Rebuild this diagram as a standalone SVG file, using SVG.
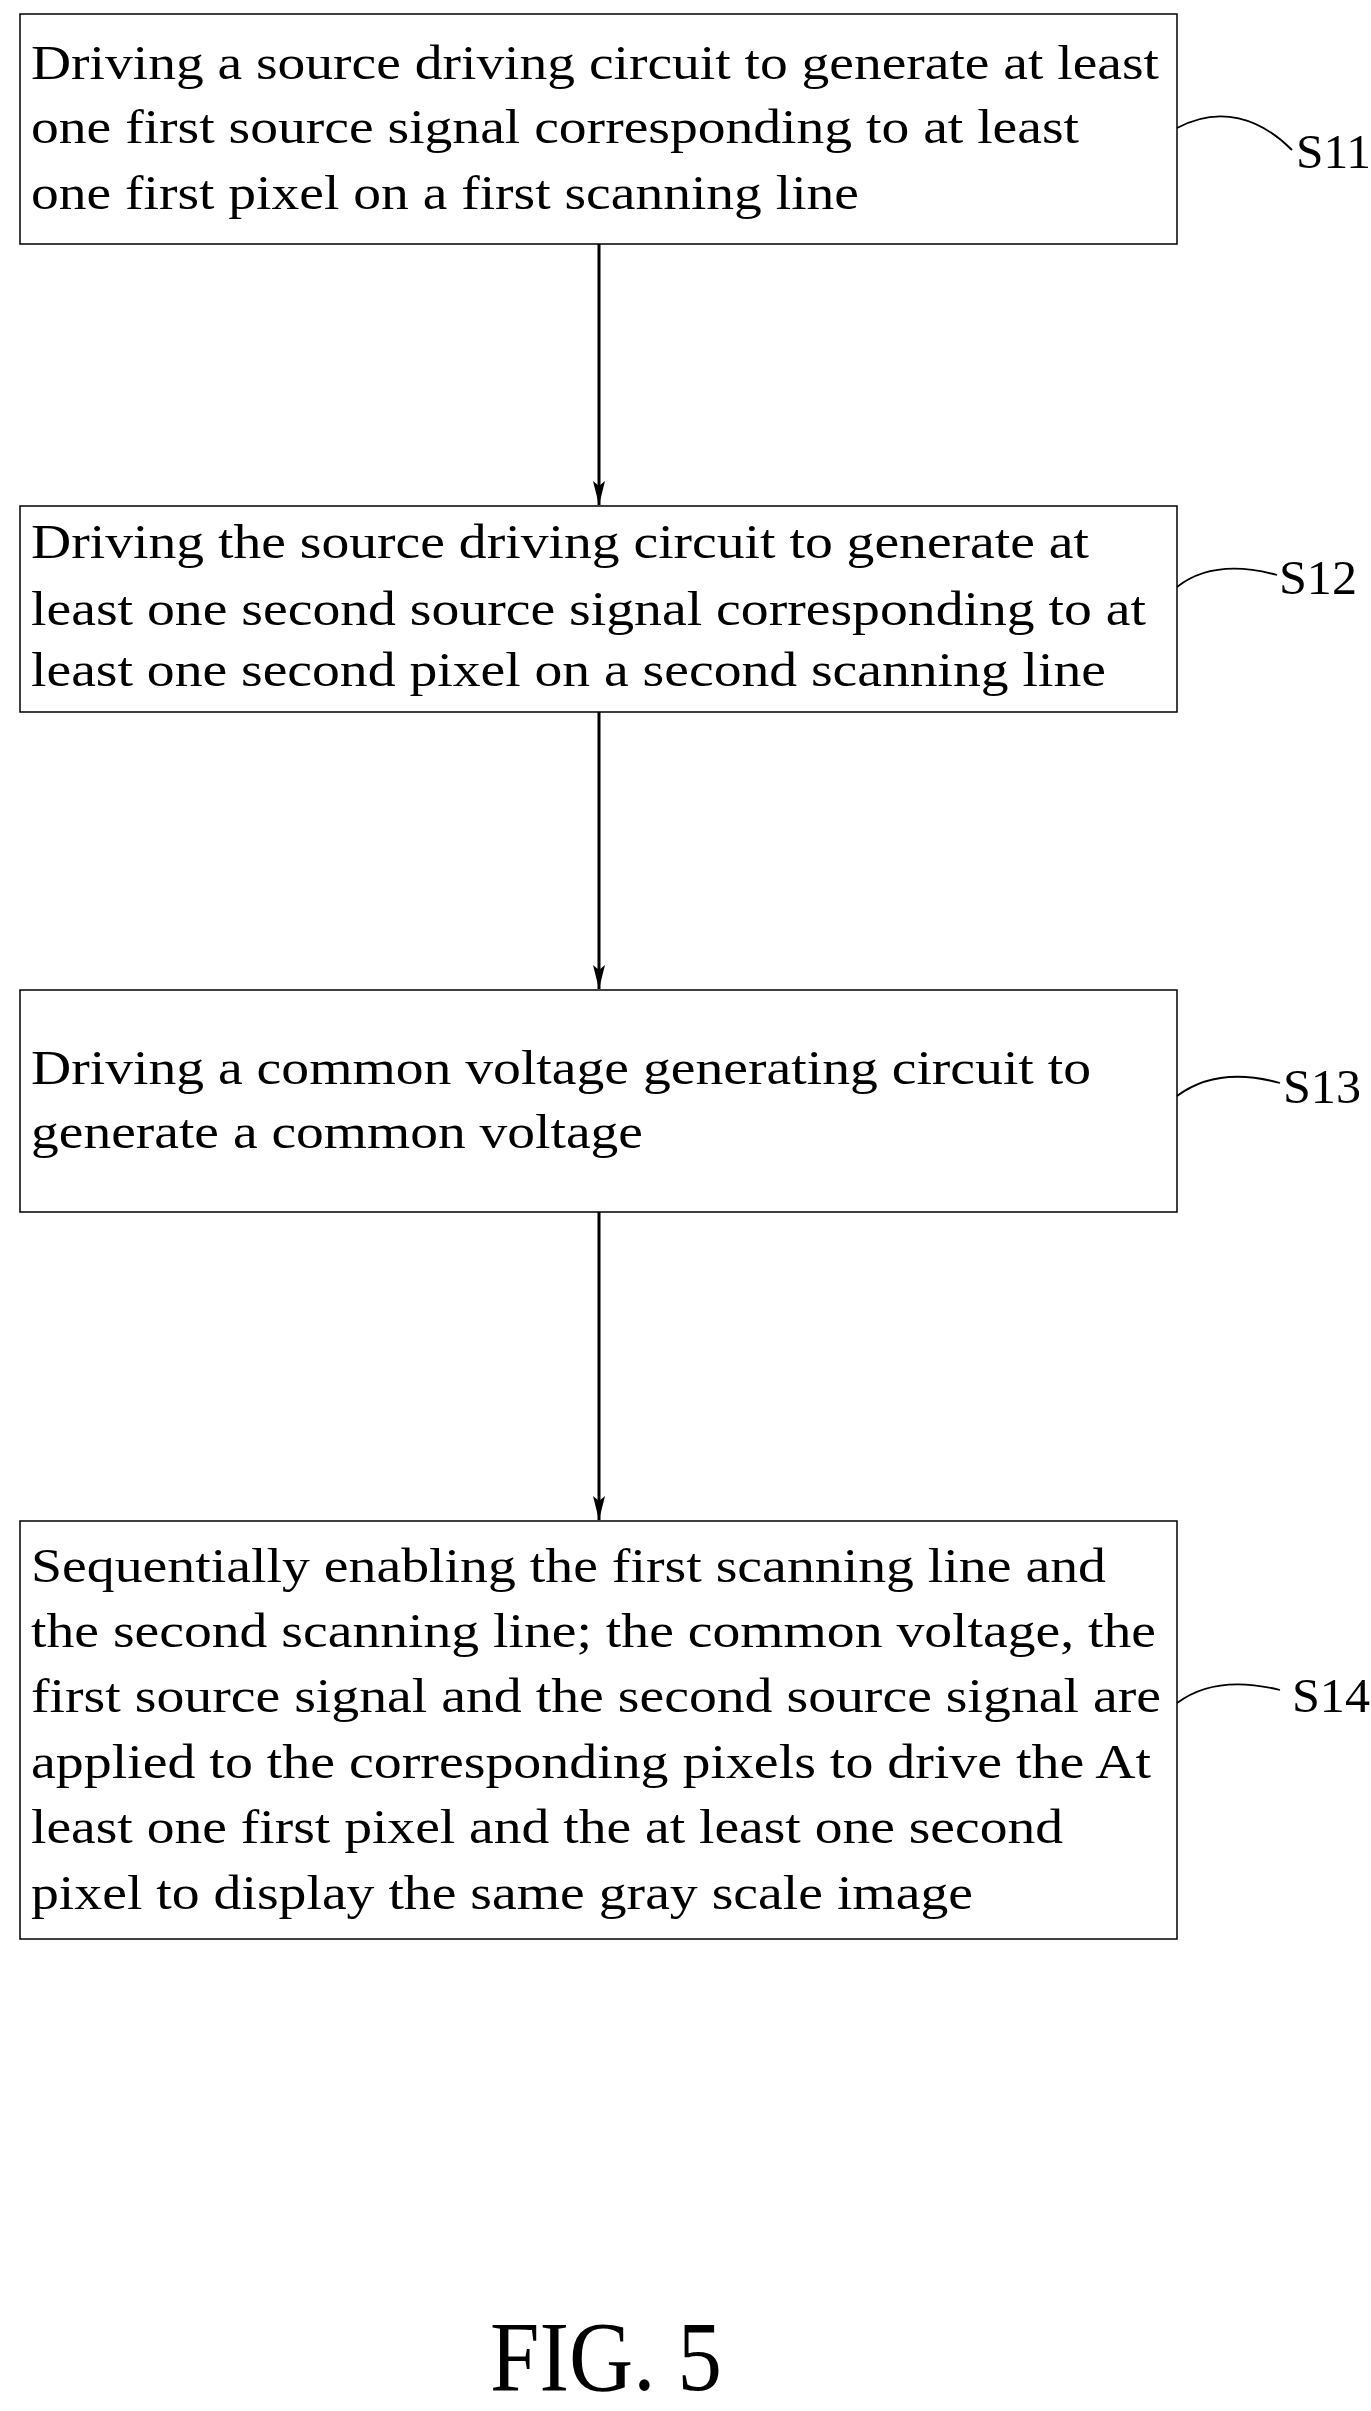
<svg xmlns="http://www.w3.org/2000/svg" width="1371" height="2411" viewBox="0 0 1371 2411">
<style>
.box{fill:#fff;stroke:#000;stroke-width:1.5}
text{font-family:"Liberation Serif","Times New Roman",serif;font-size:48px;fill:#000}
.lbl{font-size:48px}
.c{fill:none;stroke:#000;stroke-width:1.8}
.a{stroke:#000;stroke-width:3;fill:none}
</style>
<defs><marker id="ah" markerWidth="26" markerHeight="12" refX="24" refY="6" orient="auto" markerUnits="userSpaceOnUse"><path d="M0,0 L24,6 L0,12 L5,6 Z" fill="#000"/></marker></defs>
<rect width="1371" height="2411" fill="#fff"/>
<g id="S11">
<rect class="box" x="20" y="14" width="1157" height="230"/>
<text x="31" y="79" textLength="1128" lengthAdjust="spacingAndGlyphs">Driving a source driving circuit to generate at least</text>
<text x="31" y="143" textLength="1048" lengthAdjust="spacingAndGlyphs">one first source signal corresponding to at least</text>
<text x="31" y="209" textLength="828" lengthAdjust="spacingAndGlyphs">one first pixel on a first scanning line</text>
<path class="c" d="M1177,128 C1220,105 1260,118 1292,150"/>
<text class="lbl" x="1296" y="168" textLength="75" lengthAdjust="spacingAndGlyphs">S11</text>
</g>
<g id="S12">
<rect class="box" x="20" y="506" width="1157" height="206"/>
<text x="31" y="558" textLength="1058" lengthAdjust="spacingAndGlyphs">Driving the source driving circuit to generate at</text>
<text x="31" y="625" textLength="1115" lengthAdjust="spacingAndGlyphs">least one second source signal corresponding to at</text>
<text x="31" y="686" textLength="1075" lengthAdjust="spacingAndGlyphs">least one second pixel on a second scanning line</text>
<path class="c" d="M1177,587 C1205,565 1240,565 1277,575"/>
<text class="lbl" x="1279" y="594" textLength="78" lengthAdjust="spacingAndGlyphs">S12</text>
</g>
<g id="S13">
<rect class="box" x="20" y="990" width="1157" height="222"/>
<text x="31" y="1084" textLength="1060" lengthAdjust="spacingAndGlyphs">Driving a common voltage generating circuit to</text>
<text x="31" y="1148" textLength="612" lengthAdjust="spacingAndGlyphs">generate a common voltage</text>
<path class="c" d="M1177,1096 C1205,1075 1240,1072 1280,1083"/>
<text class="lbl" x="1283" y="1103" textLength="78" lengthAdjust="spacingAndGlyphs">S13</text>
</g>
<g id="S14">
<rect class="box" x="20" y="1521" width="1157" height="418"/>
<text x="31" y="1582" textLength="1075" lengthAdjust="spacingAndGlyphs">Sequentially enabling the first scanning line and</text>
<text x="31" y="1647" textLength="1125" lengthAdjust="spacingAndGlyphs">the second scanning line; the common voltage, the</text>
<text x="31" y="1712" textLength="1130" lengthAdjust="spacingAndGlyphs">first source signal and the second source signal are</text>
<text x="31" y="1778" textLength="1120" lengthAdjust="spacingAndGlyphs">applied to the corresponding pixels to drive the At</text>
<text x="31" y="1843" textLength="1032" lengthAdjust="spacingAndGlyphs">least one first pixel and the at least one second</text>
<text x="31" y="1909" textLength="942" lengthAdjust="spacingAndGlyphs">pixel to display the same gray scale image</text>
<path class="c" d="M1177,1703 C1205,1682 1240,1680 1280,1690"/>
<text class="lbl" x="1292" y="1712" textLength="78" lengthAdjust="spacingAndGlyphs">S14</text>
</g>
<g id="connectors">
<line class="a" x1="599" y1="244" x2="599" y2="505" marker-end="url(#ah)"/>
<line class="a" x1="599" y1="712" x2="599" y2="989" marker-end="url(#ah)"/>
<line class="a" x1="599" y1="1212" x2="599" y2="1520" marker-end="url(#ah)"/>
</g>
<text x="490" y="2390" style="font-size:100px" textLength="232" lengthAdjust="spacingAndGlyphs">FIG. 5</text>
</svg>
